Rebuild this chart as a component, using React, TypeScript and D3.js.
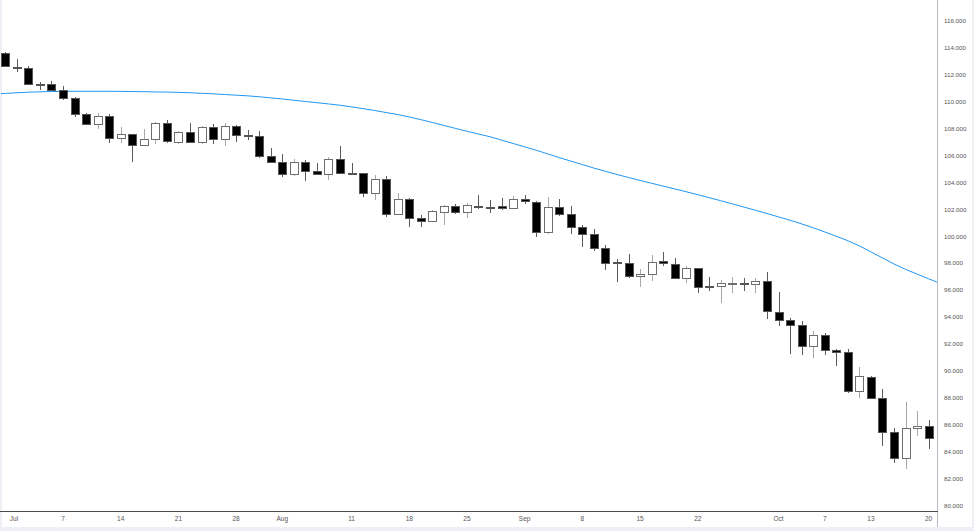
import React from "react";
import * as d3 from "d3";

// Daily candles, Jun 30 .. Oct 20 (81 trading days), index-based
const opens = [113.61,112.63,112.52,111.33,111.31,110.86,110.27,109.08,108.33,108.93,107.29,107.61,106.77,107.22,108.41,107.04,107.74,107.0,108.16,107.22,108.21,107.55,107.49,106.0,105.51,104.64,105.51,104.86,104.62,105.73,104.71,104.69,103.2,104.24,101.64,102.76,101.39,101.12,101.84,102.28,101.79,102.28,102.22,102.26,102.13,102.76,102.58,100.3,102.16,101.64,100.72,100.16,99.11,98.06,98.04,97.06,97.2,98.15,97.95,96.88,97.63,96.28,96.31,96.54,96.57,96.48,96.68,94.4,93.78,93.39,91.85,92.65,91.53,91.4,88.53,89.57,87.96,85.43,83.5,85.73,85.88];
const highs = [113.71,113.17,112.69,111.46,111.55,111.16,110.39,109.18,109.15,109.08,108.13,107.65,107.96,108.51,108.65,107.84,108.41,108.21,108.33,108.45,108.28,107.91,107.84,106.55,106.1,105.75,105.68,105.43,105.88,106.74,105.48,104.71,104.56,104.51,103.25,102.82,101.57,101.96,102.33,102.41,102.51,103.08,102.71,102.83,102.98,103.08,102.63,102.91,102.78,102.24,100.85,100.53,99.36,98.32,98.69,97.55,98.62,98.82,98.37,97.8,97.65,96.96,96.76,96.96,96.93,96.88,97.33,95.84,93.95,93.71,92.97,92.8,91.63,91.63,90.29,89.62,88.63,85.73,87.71,87.02,86.35];
const lows = [112.59,112.25,111.23,110.88,110.85,110.14,108.9,108.32,107.99,106.97,106.97,105.55,106.76,106.85,106.97,106.85,106.98,106.85,106.85,106.74,107.04,107.17,105.85,105.53,104.44,104.49,104.12,104.56,104.19,104.7,104.64,102.95,102.71,101.42,101.59,100.68,100.68,101.07,100.85,101.64,101.39,102.04,101.72,101.96,102.13,102.39,99.98,100.2,101.54,100.2,99.23,98.94,97.5,96.63,96.88,96.26,96.71,97.8,96.83,96.51,95.81,95.96,95.07,95.77,95.96,95.81,93.84,93.36,91.23,91.18,90.98,91.18,90.39,88.38,87.96,87.89,84.41,83.13,82.71,85.18,84.19];
const closes = [112.67,112.59,111.31,111.29,110.88,110.27,109.08,108.33,108.93,107.32,107.64,106.77,107.22,108.41,107.09,107.78,107.0,108.16,107.24,108.21,107.54,107.52,106.0,105.55,104.64,105.51,104.86,104.62,105.73,104.73,104.68,103.2,104.24,101.64,102.76,101.39,101.12,101.87,102.28,101.79,102.33,102.19,102.19,102.13,102.78,102.61,100.3,102.16,101.64,100.72,100.16,99.11,98.0,98.02,97.06,97.2,98.12,98.0,96.88,97.63,96.26,96.25,96.51,96.57,96.53,96.66,94.45,93.78,93.41,91.85,92.65,91.53,91.38,88.53,89.62,87.96,85.43,83.5,85.73,85.88,85.03];

// Moving average, indices -1 .. 81
const maStart = -1;
const maValues = [110.58,110.63,110.68,110.72,110.75,110.77,110.78,110.79,110.79,110.79,110.79,110.78,110.77,110.76,110.74,110.73,110.71,110.68,110.64,110.6,110.55,110.5,110.45,110.38,110.3,110.22,110.12,110.03,109.94,109.85,109.75,109.63,109.5,109.36,109.21,109.06,108.88,108.68,108.47,108.25,108.03,107.82,107.61,107.41,107.16,106.91,106.66,106.41,106.13,105.86,105.6,105.34,105.08,104.84,104.6,104.38,104.16,103.95,103.74,103.53,103.32,103.1,102.88,102.65,102.42,102.18,101.94,101.7,101.45,101.2,100.93,100.64,100.33,100.01,99.68,99.3,98.85,98.4,97.95,97.55,97.2,96.85,96.5];

const timeTickIndex = [1,5,10,15,20,24,30,35,40,45,50,55,60,67,71,75,80];
const timeTickLabels = ["Jul","7","14","21","28","Aug","11","18","25","Sep","8","15","22","Oct","7","13","20"];
const priceTicks = [80,82,84,86,88,90,92,94,96,98,100,102,104,106,108,110,112,114,116];

const W = 974;
const H = 531;
const AXIS_X = 937;
const AXIS_Y = 511;

export default function App() {
  const x = d3.scaleLinear().domain([0, 80]).range([5.3, 928.6]);
  const y = d3.scaleLinear().domain([80, 116]).range([505.4, 21.2]);

  const maLine = d3
    .line<number>()
    .x((_, i) => x(i + maStart))
    .y((v) => y(v));

  const font = "'Liberation Sans', Arial, sans-serif";

  return (
    <svg
      width={W}
      height={H}
      style={{ position: "absolute", left: 0, top: 0, background: "#fff" }}
    >
      <defs>
        <clipPath id="plot">
          <rect x={1} y={0} width={AXIS_X - 1} height={AXIS_Y} />
        </clipPath>
      </defs>
      <rect x={0} y={0} width={W} height={H} fill="#fff" />
      {/* frame */}
      <rect x={0} y={0} width={2} height={H} fill="#eef0f6" />
      <rect x={W - 2} y={0} width={2} height={H} fill="#eef0f6" />
      <rect x={0} y={527} width={W} height={4} fill="#eef0f6" />

      <g clipPath="url(#plot)">
        <path
          d={maLine(maValues) || ""}
          fill="none"
          stroke="#2196f3"
          strokeWidth={1}
        />
        {opens.map((o, i) => {
          const c = closes[i];
          const up = c >= o;
          const cx = Math.round(x(i)) + 0.5;
          const yTop = Math.round(y(Math.max(o, c)));
          const yBot = Math.round(y(Math.min(o, c)));
          const bh = Math.max(1, yBot - yTop);
          return (
            <g key={i}>
              <line
                x1={cx}
                x2={cx}
                y1={Math.round(y(highs[i]))}
                y2={Math.round(y(lows[i]))}
                stroke={up ? "#a8a8a8" : "#5a5a5a"}
                strokeWidth={1}
              />
              <rect
                x={cx - 4}
                y={yTop + 0.5}
                width={8}
                height={bh}
                fill={up ? "#ffffff" : "#000000"}
                stroke={up ? "#6e6e6e" : "#555555"}
                strokeWidth={1}
              />
            </g>
          );
        })}
      </g>

      {/* axes */}
      <line x1={AXIS_X + 0.5} x2={AXIS_X + 0.5} y1={0} y2={527} stroke="#b8bbc2" strokeWidth={1} />
      <line x1={0} x2={AXIS_X + 1} y1={AXIS_Y + 0.5} y2={AXIS_Y + 0.5} stroke="#4a4a4a" strokeWidth={1} />

      {priceTicks.map((p) => (
        <text
          key={p}
          x={944}
          y={y(p)}
          dy="0.35em"
          fontFamily={font}
          fontSize={6.2}
          fill="#555"
        >
          {p.toFixed(3)}
        </text>
      ))}

      {timeTickIndex.map((ti, k) => (
        <text
          key={k}
          x={timeTickLabels[k] === "Jul" ? 14 : x(ti)}
          y={519}
          dy="0.35em"
          textAnchor="middle"
          fontFamily={font}
          fontSize={6.5}
          fill="#555"
        >
          {timeTickLabels[k]}
        </text>
      ))}
    </svg>
  );
}
